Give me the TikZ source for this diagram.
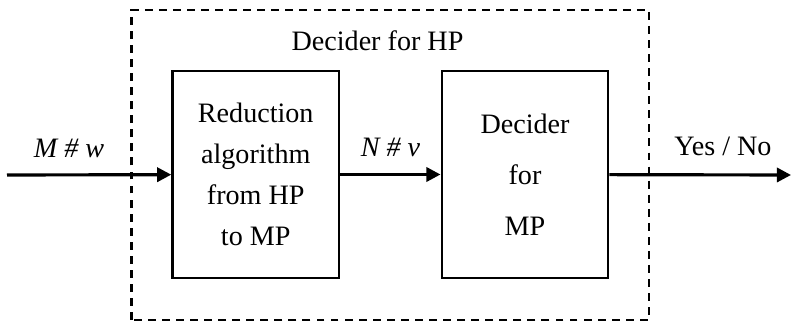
\documentclass[tikz,border=0pt]{standalone}
\usepackage{fontspec}
\setmainfont{Liberation Serif}
\usetikzlibrary{arrows.meta}

\tikzset{
  block/.style={draw, line width=1.4pt, minimum width=3.33cm, minimum height=4.14cm,
    align=center, inner sep=0pt},
  flow/.style={line width=1.8pt, -{Triangle[length=8pt,width=8pt]}},
  frame/.style={line width=1.4pt, dash pattern=on 4.5pt off 3.5pt},
  lbl/.style={font=\fontsize{16}{23.3}\selectfont}
}

\begin{document}
\begin{tikzpicture}
  \useasboundingbox (0,0) rectangle (15.82,6.44);

  % outer decider, dashed
  \draw[frame] (2.63,0.04) rectangle (12.98,6.24);
  \node[lbl] (title) at (7.55,5.62) {Decider for HP};

  % the two stages
  \node[block, lbl] (reduce) at (5.115,2.95)
    {Reduction\\algorithm\\from HP\\to MP};
  \node[block, lbl, font=\fontsize{16}{29}\selectfont] (decmp) at (10.5,2.95)
    {Decider\\for\\MP};

  \coordinate (in) at (0.14,2.94);
  \coordinate (out) at (15.82,2.94);

  \draw[flow] (in) -- (reduce);
  \draw[flow] (reduce) -- (decmp);
  \draw[flow] (decmp) -- (out);

  \node[lbl] (inlbl) at (1.38,3.48) {\textit{M \# w}};
  \node[lbl] (midlbl) at (7.81,3.5) {\textit{N \# v}};
  \node[lbl] (outlbl) at (14.46,3.52) {Yes / No};
\end{tikzpicture}
\end{document}
